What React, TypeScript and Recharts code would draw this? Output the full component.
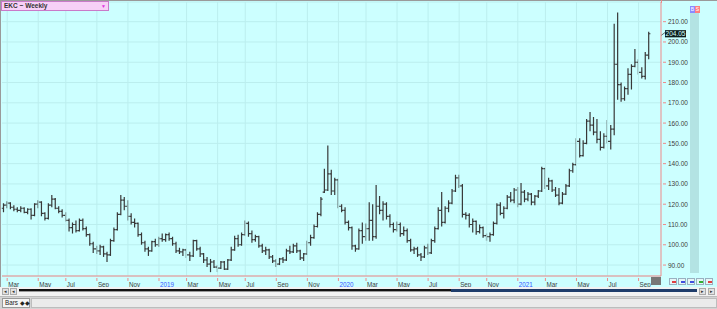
import React from 'react'
import { Bar, CartesianGrid, ComposedChart, ReferenceLine, XAxis, YAxis } from 'recharts'

// weekly bars, dated on the Friday of each week
const FIRST_WEEK = Date.UTC(2018, 1, 23)
const DAY = 86400000
const EXTRA_WEEKS = 3 // empty room to the right of the last bar

const opens = [
  118, 119.5, 120.5, 118.5, 117.5, 117, 118, 116, 117.5, 114.5,
  120, 121, 115.5, 113, 119.5, 122.5, 118, 116.5, 114.5, 112,
  108.5, 110, 107, 112, 108, 105, 100.5, 98, 97, 99,
  95.5, 95, 102, 107.5, 115, 122, 119, 114, 111, 110.5,
  105, 101, 98, 97, 101.5, 100, 103, 102.5, 105, 103,
  100.5, 97, 96.5, 97.5, 95, 94.5, 102, 98, 95.5, 92.5,
  90.5, 91.5, 89, 88.5, 91.5, 88, 92.5, 97.5, 103, 100,
  105, 110.5, 105.5, 102.5, 104, 99.5, 97, 97.5, 94, 92,
  90.5, 93, 92.5, 97, 96.5, 99.5, 97, 93.5, 95.5, 101,
  103.5, 109, 115, 126, 127, 135, 126.5, 132, 119, 117,
  111, 108.5, 99.5, 98, 107, 104, 108, 112, 104, 119,
  117, 120, 114, 110, 107.5, 110, 105.5, 107, 102, 97.5,
  98, 95, 94, 98.5, 96, 102, 108, 117, 111, 118,
  120.5, 126.5, 133, 129, 115, 114.5, 110, 111.5, 106.5, 108.5,
  104.5, 104, 105, 110.5, 119.5, 115.5, 118, 123.5, 122, 127,
  120, 126, 122.5, 125, 121, 124, 126.5, 137.5, 129, 131.5,
  127, 124.5, 120.5, 125, 129, 136.5, 139.5, 151, 144, 150,
  161, 159, 155.5, 152, 148, 153.5, 151, 157, 189, 179,
  172, 177, 184, 188, 190, 185, 183, 193.5,
]

const highs = [
  120.5, 121.5, 121, 119.5, 118.5, 119, 118.5, 118, 118, 120.5,
  122, 121.5, 116, 120.5, 124.5, 123, 119, 117.5, 116, 113,
  111, 112, 113, 113, 109, 105.5, 101.5, 99.5, 100, 99.5,
  96.5, 103, 108.5, 116, 124.5, 123.5, 122, 115.5, 113, 111,
  106, 102, 99, 102, 103, 104, 105.5, 105.5, 106, 104,
  101.5, 98.5, 98, 98, 96.5, 102.5, 102.5, 99, 96, 94,
  93, 92.5, 90, 92, 92, 93, 99, 104.5, 105, 106,
  112, 111.5, 107, 105, 104.5, 100.5, 99, 98, 95, 93,
  93.5, 94, 98, 99.5, 100.5, 101, 97.5, 96, 102, 105,
  110, 116, 123.5, 137.5, 149, 137, 133, 132.5, 120, 118.5,
  112, 109, 100, 108, 111, 110.5, 121, 120, 129.5, 124,
  121.5, 121, 115, 111, 111.5, 111, 109, 108, 103, 99,
  99, 96, 99.5, 100.5, 103, 109, 118.5, 126, 119, 122,
  127.5, 134.5, 134.5, 130, 116, 115.5, 113, 112, 110, 109,
  105.5, 106, 111.5, 120.5, 121, 119, 124.5, 126, 128, 128.5,
  130.5, 127, 126, 125.5, 124.5, 127, 138.5, 138, 133, 132,
  128.5, 128, 126, 130, 137.5, 140.5, 152.5, 152.5, 151.5, 162,
  165.5, 163, 162, 156, 155, 161.5, 159, 209, 214.5, 180,
  178, 187, 189, 196.5, 191.5, 187.5, 195, 205,
]

const lows = [
  116, 118, 117.5, 116.5, 116, 116, 115.5, 115, 112.5, 114,
  118, 114, 112, 112.5, 118.5, 117.5, 115.5, 113.5, 111.5, 106.5,
  105.5, 106, 106.5, 107, 104, 99.5, 96, 95.5, 95, 94,
  91.5, 94.5, 101.5, 107, 114.5, 117, 112, 110, 108.5, 104,
  100, 96.5, 94.5, 96.5, 99, 99, 101.5, 101.5, 102, 99.5,
  96, 95.5, 94.5, 93.5, 92, 94, 97, 94, 91, 89,
  86.5, 88.5, 86.5, 88, 87.5, 87.5, 92, 97, 99, 99.5,
  104.5, 104, 101, 101.5, 98.5, 96, 95, 93, 91, 89,
  90, 91, 92, 95.5, 96, 96, 92.5, 92, 95, 99.5,
  103, 108.5, 114, 125.5, 126.5, 124.5, 124.5, 118, 116, 110,
  107, 97.5, 96.5, 97.5, 100.5, 102, 102, 102, 103, 115,
  112, 112.5, 108.5, 106, 106.5, 104, 104.5, 101, 96.5, 95.5,
  94, 92, 93.5, 95, 95.5, 101, 107.5, 109, 110.5, 116,
  120, 126, 128, 113.5, 112.5, 108.5, 106, 105, 105.5, 103.5,
  102, 101.5, 104.5, 110, 114.5, 113, 117.5, 121, 120.5, 118.5,
  119.5, 121, 121.5, 119.5, 119.5, 123, 126, 127.5, 127, 126,
  123.5, 119.5, 120, 124.5, 128.5, 135.5, 139, 143, 143.5, 149.5,
  156, 154, 150, 146.5, 147.5, 150, 147, 154, 171.5, 170.5,
  171, 174, 176.5, 187.5, 184, 182, 181.5, 191.5,
]

const closes = [
  119.5, 120.5, 118.5, 117.5, 117, 118, 116, 117.5, 114.5, 120,
  121, 115.5, 113, 119.5, 122.5, 118, 116.5, 114.5, 112, 108.5,
  110, 107, 112, 108, 105, 100.5, 98, 97, 99, 95.5,
  95, 102, 107.5, 115, 122, 119, 114, 111, 110.5, 105,
  101, 98, 97, 101.5, 100, 103, 102.5, 105, 103, 100.5,
  97, 96.5, 97.5, 95, 94.5, 102, 98, 95.5, 92.5, 90.5,
  91.5, 89, 88.5, 91.5, 88, 92.5, 97.5, 103, 100, 105,
  110.5, 105.5, 102.5, 104, 99.5, 97, 97.5, 94, 92, 90.5,
  93, 92.5, 97, 96.5, 99.5, 97, 93.5, 95.5, 101, 103.5,
  109, 115, 122.5, 127, 135, 126.5, 132, 119, 117, 111,
  108.5, 99.5, 98, 107, 104, 108, 112, 104, 119, 117,
  120, 114, 110, 107.5, 110, 105.5, 107, 102, 97.5, 98,
  95, 94, 98.5, 96, 102, 108, 117, 111, 118, 120.5,
  126.5, 133, 129, 115, 114.5, 110, 111.5, 106.5, 108.5, 104.5,
  104, 105, 110.5, 119.5, 115.5, 118, 123.5, 122, 127, 120,
  126, 122.5, 125, 121, 124, 126.5, 137.5, 129, 131.5, 127,
  124.5, 120.5, 125, 129, 136.5, 139.5, 151, 144, 150, 161,
  159, 155.5, 152, 148, 153.5, 151, 157, 189, 179, 172,
  177, 184, 188, 190, 185, 183, 193.5, 204.05,
]

const yTicks = [90, 100, 110, 120, 130, 140, 150, 160, 170, 180, 190, 200, 210]
const yDomain = [84.6, 219.7]
const monthNames = ['Jan', 'Feb', 'Mar', 'Apr', 'May', 'Jun', 'Jul', 'Aug', 'Sep', 'Oct', 'Nov', 'Dec']

const BG = '#ccffff'
const GRID = '#bbeeee'
const AXIS_RED = '#ef8a8a'
const BAR = '#383838'
const FONT = "'Liberation Sans', Arial, sans-serif"

const weeks = Array.from({ length: closes.length + EXTRA_WEEKS }, (_, i) =>
  new Date(FIRST_WEEK + i * 7 * DAY).toISOString().slice(0, 10)
)

const data = weeks.map((date, i) =>
  i < closes.length
    ? { date, range: [lows[i], highs[i]], open: opens[i], high: highs[i], low: lows[i], close: closes[i] }
    : { date }
)

// a tick on the week nearest the 1st of every other month, years in place of January
const tickLabels: Record<string, { text: string; year: boolean }> = {}
weeks.forEach((date, i) => {
  for (let off = -3; off <= 3; off++) {
    const d = new Date(FIRST_WEEK + i * 7 * DAY + off * DAY)
    if (d.getUTCDate() === 1 && d.getUTCMonth() % 2 === 0) {
      const m = d.getUTCMonth()
      tickLabels[date] = m === 0 ? { text: String(d.getUTCFullYear()), year: true } : { text: monthNames[m], year: false }
    }
  }
})
const xTicks = Object.keys(tickLabels)
const lastClose = closes[closes.length - 1]

function OhlcBar(props: any) {
  const { x, y, width, height, payload } = props
  if (!payload || payload.high == null || !isFinite(y) || !isFinite(height)) return null
  const top = Math.min(y, y + height)
  const bottom = Math.max(y, y + height)
  const span = payload.high - payload.low || 1
  const py = (v: number) => top + ((payload.high - v) / span) * (bottom - top)
  const cx = x + width / 2
  return (
    <g stroke={BAR} strokeWidth={1.2}>
      <line x1={cx} y1={top} x2={cx} y2={bottom} />
      <line x1={cx - 1.7} y1={py(payload.open)} x2={cx} y2={py(payload.open)} />
      <line x1={cx} y1={py(payload.close)} x2={cx + 1.7} y2={py(payload.close)} />
    </g>
  )
}

function MonthTick({ x, y, payload }: any) {
  const info = tickLabels[payload.value]
  if (!info) return null
  return (
    <g>
      <line x1={x} y1={y} x2={x} y2={y + 3} stroke={AXIS_RED} />
      <text x={x + 1} y={y + 8.5} fontSize={6.3} fontFamily={FONT} fill={info.year ? '#3a55ff' : '#404040'}>
        {info.text}
      </text>
    </g>
  )
}

function PriceTick({ x, y, payload }: any) {
  return (
    <g>
      <line x1={x} y1={y} x2={x + 3} y2={y} stroke={AXIS_RED} />
      <text x={x + 5} y={y} dominantBaseline="central" fontSize={6.5} fontFamily={FONT} fill="#404040">
        {Number(payload.value).toFixed(2)}
      </text>
    </g>
  )
}

function PriceBadge({ viewBox }: any) {
  if (!viewBox) return null
  const right = viewBox.x + viewBox.width
  const cy = viewBox.y
  return (
    <g>
      <line x1={right} y1={cy + 1.8} x2={right + 4} y2={cy - 1.2} stroke="#444" strokeWidth={0.8} />
      <rect x={right + 4} y={cy - 3.6} width={21} height={7.2} fill="#0d1c1c" />
      <text x={right + 14.5} y={cy} textAnchor="middle" dominantBaseline="central" fontSize={6.5} fontFamily={FONT} fill="#d6ffff">
        {lastClose.toFixed(2)}
      </text>
    </g>
  )
}

const box = (style: React.CSSProperties): React.CSSProperties => ({ position: 'absolute', boxSizing: 'border-box', ...style })

export default function App() {
  return (
    <div style={{ position: 'absolute', left: 0, top: 0, width: 717, height: 309, background: '#d9d9d9', overflow: 'hidden', fontFamily: FONT }}>
      <div style={box({ left: 0, top: 0, width: 717, height: 287, background: BG })}>
        <ComposedChart width={717} height={287} data={data} margin={{ top: 2, right: 0, bottom: 0, left: 2 }} barCategoryGap={0}>
          <CartesianGrid vertical={false} stroke={GRID} />
          {xTicks.map((d) => (
            <ReferenceLine key={d} x={d} stroke={GRID} />
          ))}
          <XAxis
            dataKey="date"
            height={11}
            ticks={xTicks}
            interval={0}
            tickSize={0}
            tickLine={false}
            axisLine={{ stroke: AXIS_RED }}
            tick={(p: any) => <MonthTick {...p} />}
          />
          <YAxis
            orientation="right"
            width={56}
            type="number"
            domain={yDomain}
            allowDataOverflow
            ticks={yTicks}
            interval={0}
            tickSize={0}
            tickLine={false}
            axisLine={{ stroke: AXIS_RED }}
            tick={(p: any) => <PriceTick {...p} />}
          />
          <Bar dataKey="range" isAnimationActive={false} shape={(p: any) => <OhlcBar {...p} />} />
          <ReferenceLine y={lastClose} stroke="none" label={(p: any) => <PriceBadge viewBox={p.viewBox} />} />
        </ComposedChart>
      </div>

      {/* frame */}
      <div style={box({ left: 0, top: 0, width: 717, height: 1, background: '#9a9a9a' })} />
      <div style={box({ left: 0, top: 0, width: 1, height: 287, background: '#9a9a9a' })} />
      <div style={box({ left: 661, top: 0, width: 1, height: 3, background: AXIS_RED })} />

      {/* symbol box */}
      <div style={box({ left: 1, top: 1, width: 108, height: 10, background: '#f7d0f7', border: '1px solid #c97ac9', fontSize: 6.5, fontWeight: 'bold', color: '#333', lineHeight: '8px', paddingLeft: 2, whiteSpace: 'nowrap' })}>
        EKC ~ Weekly
        <span style={{ position: 'absolute', right: 2, top: 0, color: '#e033e0', fontSize: 5 }}>▼</span>
      </div>

      {/* right-hand strip */}
      <div style={box({ left: 690, top: 13, width: 9, height: 260, background: '#b3e3e3' })} />
      <div style={box({ left: 690, top: 6, width: 5, height: 7, background: '#8a8aff', color: '#fff', fontSize: 5, lineHeight: '7px', textAlign: 'center' })}>B</div>
      <div style={box({ left: 695, top: 6, width: 5, height: 7, background: '#ff7f7f', color: '#fff', fontSize: 5, lineHeight: '7px', textAlign: 'center' })}>S</div>

      {/* bottom-right buttons */}
      <div style={box({ left: 651, top: 277, width: 10, height: 8, background: '#777' })} />
      {[
        { left: 669, c: '#e04040' },
        { left: 678, c: '#4050e0' },
        { left: 687, c: '#4050e0' },
        { left: 696, c: '#30b030' },
        { left: 705, c: '#e04040' },
      ].map((b) => (
        <div key={b.left} style={box({ left: b.left, top: 278, width: 8, height: 7, background: '#e6f6f6', border: '1px solid #9ab0c0' })}>
          <div style={box({ left: 1.5, top: 2, width: 4, height: 1.5, background: b.c })} />
        </div>
      ))}

      {/* scroll bar */}
      <div style={box({ left: 0, top: 287, width: 717, height: 9, background: '#f2f2f2' })} />
      {[2, 10, 699, 708].map((l) => (
        <div key={l} style={box({ left: l, top: 288, width: 7, height: 7, background: '#e2e2e2', border: '1px solid #aaa', fontSize: 5, lineHeight: '5px', textAlign: 'center', color: '#333' })}>
          {l < 100 ? '◂' : '▸'}
        </div>
      ))}
      <div style={box({ left: 19, top: 289, width: 432, height: 2, background: '#111' })} />
      <div style={box({ left: 19, top: 291, width: 432, height: 1, background: '#999' })} />
      <div style={box({ left: 451, top: 288.5, width: 246, height: 3.5, background: '#1f3d6b' })} />

      {/* tab bar */}
      <div style={box({ left: 0, top: 296, width: 717, height: 13, background: '#d4d4d4', borderTop: '1px solid #bcbcbc' })} />
      <div style={box({ left: 2, top: 298, width: 28, height: 10, background: '#f5f5f5', border: '1px solid #999', fontSize: 6.3, lineHeight: '8px', paddingLeft: 2, color: '#222', whiteSpace: 'nowrap' })}>
        Bars ◆◆
      </div>
      <div style={box({ left: 31, top: 298, width: 686, height: 10, background: '#ebebeb', border: '1px solid #bdbdbd' })} />
    </div>
  )
}
